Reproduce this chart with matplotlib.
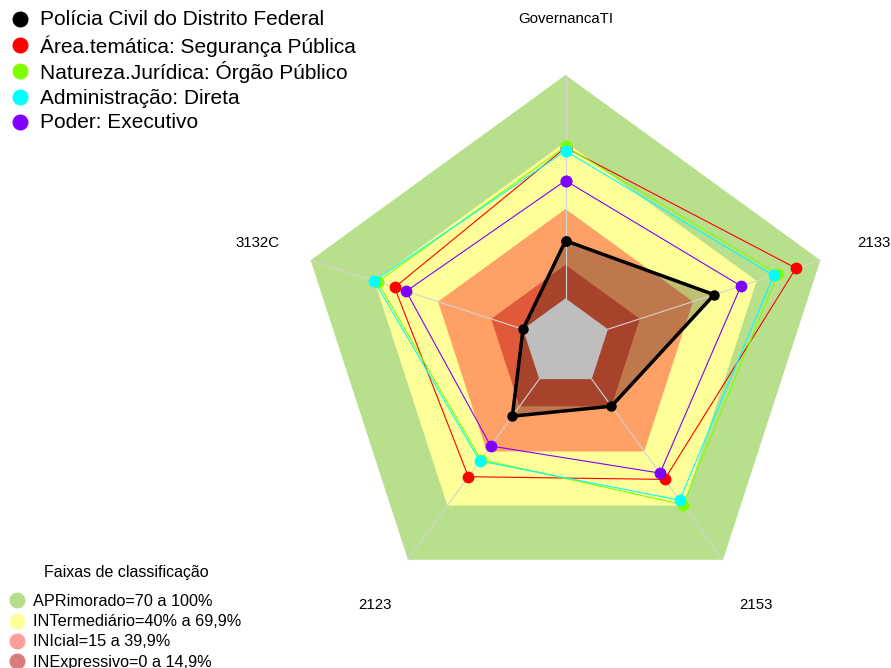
import numpy as np
import matplotlib
matplotlib.use('Agg')
import matplotlib.pyplot as plt

plt.rcParams['font.family'] = ['Liberation Sans', 'DejaVu Sans']

# eixos do radar (sentido anti-horário a partir do topo)
eixos = ['GovernancaTI', '3132C', '2123', '2153', '2133']

series_nomes = ['Polícia Civil do Distrito Federal',
                'Área.temática: Segurança Pública',
                'Natureza.Jurídica: Órgão Público',
                'Administração: Direta',
                'Poder: Executivo']
pcdf = [25.8, 0, 20.5, 15, 50]
area_tematica = [67.5, 60.5, 54, 55.5, 88.5]
natureza = [68, 68.5, 44.5, 69.5, 80]
administracao = [66, 70, 45.3, 67, 78]
poder = [52.7, 55, 37, 52, 62.6]
series_valores = [pcdf, area_tematica, natureza, administracao, poder]
series_cores = ['black', '#FF0000', '#7FFF00', '#00FFFF', '#7F00FF']

# faixas de classificação
faixas_lim = [100, 70, 40, 15]
faixas_cores = ['#B8E08C', '#FFFF99', '#FFA066', '#E05A3A']
faixas_nomes = ['APRimorado=70 a 100%', 'INTermediário=40% a 69,9%',
                'INIcial=15 a 39,9%', 'INExpressivo=0 a 14,9%']
faixas_leg_cores = ['#B5DD8A', '#FFFF99', '#FF9C9C', '#D97C7C']

W, H = 891, 668
fig = plt.figure(figsize=(W / 100, H / 100), dpi=100)
cx, cy, R = 565.5, 343, 268
ax = fig.add_axes([(cx - R) / W, (H - cy - R) / H, 2 * R / W, 2 * R / H])
ax.set_xlim(-1, 1)
ax.set_ylim(-1, 1)
ax.axis('off')

ang = np.deg2rad(90 + 72 * np.arange(len(eixos)))
seg = 5


def raio(v):
    # centro não é zero (como fmsb com centerzero=FALSE)
    return 1 / (seg + 1) + seg / (seg + 1) * np.asarray(v, dtype=float) / 100


def xy(vals):
    r = raio(vals)
    x = r * np.cos(ang)
    y = r * np.sin(ang)
    return np.append(x, x[0]), np.append(y, y[0])


for lim, cor in zip(faixas_lim, faixas_cores):
    x, y = xy([lim] * len(eixos))
    ax.fill(x, y, color=cor, lw=0, zorder=1)

# centro cinza
x, y = xy([0] * len(eixos))
ax.fill(x, y, color='#BEBEBE', lw=0, zorder=3)

# linhas dos eixos
for a in ang:
    ax.plot([0, np.cos(a)], [0, np.sin(a)], color='#D3D3D3', lw=0.8, zorder=2.5)

# séries
for i, (vals, cor) in enumerate(zip(series_valores, series_cores)):
    x, y = xy(vals)
    if i == 0:
        ax.fill(x, y, color='black', alpha=0.25, lw=0, zorder=2)
        ax.plot(x, y, color=cor, lw=2.5, marker='o', ms=6.5, zorder=10)
    else:
        ax.plot(x, y, color=cor, lw=0.8, marker='o', ms=7.5, zorder=4 + i)

# rótulos dos eixos
for nome, a in zip(eixos, ang):
    ax.text(1.21 * np.cos(a), 1.21 * np.sin(a), nome, ha='center', va='center',
            fontsize=10.8, clip_on=False)

# legendas desenhadas à mão
lax = fig.add_axes([0, 0, 1, 1], zorder=20)
lax.set_xlim(0, W)
lax.set_ylim(H, 0)
lax.axis('off')

ys = [18.5, 45, 71, 97, 122]
for nome, cor, yy in zip(series_nomes, series_cores, ys):
    lax.plot([20], [yy], marker='o', ms=10.5, color=cor, ls='none')
    lax.text(40, yy + 1, nome, fontsize=15, va='center', ha='left')

lax.text(126, 573, 'Faixas de classificação', fontsize=11.5, ha='center', va='center')
ys2 = [600, 620.5, 641, 661]
for nome, cor, yy in zip(faixas_nomes, faixas_leg_cores, ys2):
    lax.plot([17], [yy], marker='o', ms=10.5, color=cor, ls='none')
    lax.text(33, yy + 1, nome, fontsize=11.7, va='center', ha='left')

fig.savefig('out.png', dpi=100)
